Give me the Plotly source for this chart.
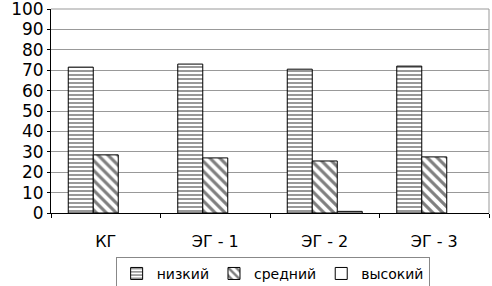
import plotly.graph_objects as go

categories = ["КГ", "ЭГ - 1", "ЭГ - 2", "ЭГ - 3"]
low = [71.5, 73, 70.5, 72]
mid = [28.5, 27, 25.5, 27.5]
high = [None, None, 0.8, None]
series_names = ["низкий", "средний", "высокий"]

fig = go.Figure()
fig.add_trace(go.Bar(x=categories, y=low, name=series_names[0],
                     marker=dict(color="white", line=dict(color="black", width=1),
                                 pattern=dict(shape="-", fgcolor="black", bgcolor="white", size=4, solidity=0.4))))
fig.add_trace(go.Bar(x=categories, y=mid, name=series_names[1],
                     marker=dict(color="white", line=dict(color="black", width=1),
                                 pattern=dict(shape="\\", fgcolor="black", bgcolor="white", size=7, solidity=0.45))))
fig.add_trace(go.Bar(x=categories, y=high, name=series_names[2],
                     marker=dict(color="white", line=dict(color="black", width=1))))

fig.update_layout(
    width=492, height=286,
    margin=dict(l=51, r=3, t=9, b=73, autoexpand=False),
    paper_bgcolor="white", plot_bgcolor="white",
    font=dict(family="DejaVu Sans", color="black"),
    barmode="group", bargap=0.315, bargroupgap=0,
    showlegend=True,
    legend=dict(orientation="h", x=0.506, xanchor="center", y=-0.215, yanchor="top",
                bordercolor="#888", borderwidth=1, font=dict(size=14),
                itemwidth=30, tracegroupgap=0),
    xaxis=dict(showline=True, linecolor="black", linewidth=1, ticks="outside",
               tickson="boundaries", ticklen=4, tickcolor="black", automargin=False,
               tickfont=dict(size=16), ticklabelstandoff=14),
    yaxis=dict(range=[0, 100], dtick=10, showline=True, linecolor="black", linewidth=1,
               gridcolor="#999", gridwidth=1, ticks="outside", ticklen=3, tickcolor="black",
               tickfont=dict(size=17), zeroline=False, automargin=False,
               ticklabeloverflow="allow"),
)
fig.add_shape(type="line", xref="paper", yref="paper", x0=1, x1=1, y0=0, y1=1,
              line=dict(color="#999", width=1))
fig.add_shape(type="line", xref="paper", yref="paper", x0=0, x1=1, y0=1, y1=1,
              line=dict(color="#999", width=1))
fig.write_html("out.html", config={"displayModeBar": False},
               post_script="document.body.style.margin='0';document.body.style.overflow='hidden';")
